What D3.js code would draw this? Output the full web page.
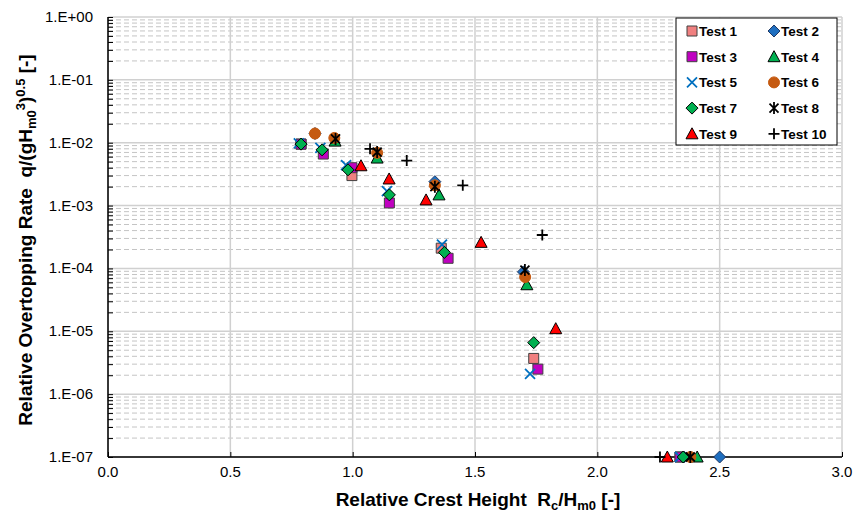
<!DOCTYPE html>
<html><head><meta charset="utf-8">
<script src="https://cdn.jsdelivr.net/npm/d3@7"></script>
<style>
body{margin:0;background:#fff;}
text{font-family:"Liberation Sans",Arial,sans-serif;fill:#000;}
</style></head>
<body><svg id="c" width="855" height="517"></svg>
<script>
const xTicks = [0,0.5,1.0,1.5,2.0,2.5,3.0];
const xTickLabels = ["0.0","0.5","1.0","1.5","2.0","2.5","3.0"];
const yTicks = [1e-7,1e-6,1e-5,1e-4,1e-3,1e-2,1e-1,1];
const yTickLabels = ["1.E-07","1.E-06","1.E-05","1.E-04","1.E-03","1.E-02","1.E-01","1.E+00"];
const seriesNames = ["Test 1","Test 2","Test 3","Test 4","Test 5","Test 6","Test 7","Test 8","Test 9","Test 10"];

const t1x = [0.789,0.997,1.362,1.740,2.338];
const t1y = [0.0095,0.0030,2.1e-4,3.7e-6,1e-7];
const t2x = [0.789,0.846,1.336,1.698,2.500];
const t2y = [0.0095,0.0140,0.0024,8.8e-5,1e-7];
const t3x = [0.789,0.880,0.997,1.150,1.390,1.757,2.338];
const t3y = [0.0095,0.0066,0.0040,0.0011,1.45e-4,2.5e-6,1e-7];
const t4x = [0.928,1.100,1.353,1.712,2.408];
const t4y = [0.0106,0.0057,0.00148,5.5e-5,1e-7];
const t5x = [0.780,0.868,0.973,1.140,1.365,1.725,2.338];
const t5y = [0.0098,0.0083,0.0044,0.0017,2.4e-4,2.1e-6,1e-7];
const t6x = [0.846,0.925,1.100,1.336,1.705,2.380];
const t6y = [0.0140,0.0119,0.0069,0.0021,7.3e-5,1e-7];
const t7x = [0.789,0.875,0.981,1.150,1.375,1.740,2.351];
const t7y = [0.0095,0.0077,0.0037,0.00148,1.8e-4,6.6e-6,1e-7];
const t8x = [0.930,1.100,1.336,1.704,2.380];
const t8y = [0.0115,0.0071,0.0020,9.4e-5,1e-7];
const t9x = [1.034,1.149,1.300,1.525,1.830,2.286];
const t9y = [0.0043,0.00265,0.00123,2.6e-4,1.1e-5,1e-7];
const t10x = [1.071,1.221,1.450,1.775,2.256];
const t10y = [0.0080,0.0052,0.0021,3.4e-4,1e-7];

const seriesX = [t1x,t2x,t3x,t4x,t5x,t6x,t7x,t8x,t9x,t10x];
const seriesY = [t1y,t2y,t3y,t4y,t5y,t6y,t7y,t8y,t9y,t10y];

const styles = [
 {shape:"square", fill:"#F08080", stroke:"#404040"},
 {shape:"diamond", fill:"#1F6FC0", stroke:"#1F3864"},
 {shape:"square", fill:"#C000C0", stroke:"#404040"},
 {shape:"triangle", fill:"#00B050", stroke:"#000"},
 {shape:"x", fill:"none", stroke:"#0070C0"},
 {shape:"circle", fill:"#C55A11", stroke:"#C55A11"},
 {shape:"diamond", fill:"#00B050", stroke:"#000"},
 {shape:"star", fill:"none", stroke:"#000"},
 {shape:"triangle", fill:"#FF0000", stroke:"#000"},
 {shape:"plus", fill:"none", stroke:"#000"}
];

function markerPath(shape){
  switch(shape){
    case "square": return "M-5,-5H5V5H-5Z";
    case "diamond": return "M0,-6L6,0L0,6L-6,0Z";
    case "triangle": return "M0,-6L6,5L-6,5Z";
    case "circle": return "M5.5,0A5.5,5.5 0 1,1 -5.5,0A5.5,5.5 0 1,1 5.5,0Z";
    case "x": return "M-5,-5L5,5M-5,5L5,-5";
    case "plus": return "M-5.5,0H5.5M0,-5.5V5.5";
    case "star": return "M-4.5,-4.5L4.5,4.5M-4.5,4.5L4.5,-4.5M0,-6V6";
  }
}
function strokeW(shape){ return (shape==="x"||shape==="plus"||shape==="star") ? 1.8 : 1; }

const svg = d3.select("#c");
const L=108, R=842, T=17, B=457;
const x = d3.scaleLinear().domain([0,3]).range([L,R]);
const y = d3.scaleLog().domain([1e-7,1]).range([B,T]);

// minor grid
const minor=[];
for(let e=-7;e<0;e++){ for(let m=2;m<=9;m++) minor.push(m*Math.pow(10,e)); }
svg.append("g").selectAll("line").data(minor).join("line")
  .attr("x1",L).attr("x2",R).attr("y1",d=>y(d)).attr("y2",d=>y(d))
  .attr("stroke","#c4c4c4").attr("stroke-width",1).attr("stroke-dasharray","5,3");
// major grid
svg.append("g").selectAll("line").data(yTicks).join("line")
  .attr("x1",L).attr("x2",R).attr("y1",d=>y(d)).attr("y2",d=>y(d))
  .attr("stroke","#d0d0d0").attr("stroke-width",1.5);
svg.append("g").selectAll("line").data(xTicks).join("line")
  .attr("y1",T).attr("y2",B).attr("x1",d=>x(d)).attr("x2",d=>x(d))
  .attr("stroke","#d0d0d0").attr("stroke-width",1.5);

// axes
const yAxis = d3.axisRight(y).tickValues(minor.concat(yTicks)).tickSize(5).tickFormat("");
const gy = svg.append("g").attr("transform",`translate(${L},0)`).call(yAxis);
gy.select(".domain").remove();
gy.selectAll("line").attr("stroke","#000");
svg.append("line").attr("x1",L).attr("x2",L).attr("y1",T).attr("y2",B).attr("stroke","#000").attr("stroke-width",1.5);

const xAxis = d3.axisTop(x).tickValues(xTicks).tickSize(5).tickFormat("");
const gx = svg.append("g").attr("transform",`translate(0,${B})`).call(xAxis);
gx.select(".domain").remove();
gx.selectAll("line").attr("stroke","#000");
svg.append("line").attr("x1",L).attr("x2",R).attr("y1",B).attr("y2",B).attr("stroke","#000").attr("stroke-width",1.5);

// tick labels
svg.append("g").selectAll("text").data(yTicks).join("text")
  .attr("x",93).attr("y",d=>y(d)+5).attr("text-anchor","end")
  .attr("font-size",15).text((d,i)=>yTickLabels[i]);
svg.append("g").selectAll("text").data(xTicks).join("text")
  .attr("x",d=>x(d)).attr("y",477).attr("text-anchor","middle")
  .attr("font-size",15).text((d,i)=>xTickLabels[i]);

// axis titles
const xt = svg.append("text").attr("x",478).attr("y",506).attr("text-anchor","middle")
  .attr("font-size",19).attr("font-weight","bold");
xt.append("tspan").text("Relative Crest Height\u00A0\u00A0R");
xt.append("tspan").attr("font-size",13).attr("dy",4).text("c");
xt.append("tspan").attr("dy",-4).text("/H");
xt.append("tspan").attr("font-size",13).attr("dy",4).text("m0");
xt.append("tspan").attr("dy",-4).text(" [-]");

const yt = svg.append("text").attr("transform","translate(32,240) rotate(-90)").attr("text-anchor","middle")
  .attr("font-size",19).attr("font-weight","bold");
yt.append("tspan").text("Relative Overtopping Rate\u00A0\u00A0q/(gH");
yt.append("tspan").attr("font-size",13).attr("dy",4).text("m0");
yt.append("tspan").attr("font-size",13).attr("dy",-11).text("3");
yt.append("tspan").attr("dy",7).text(")");
yt.append("tspan").attr("font-size",13).attr("dy",-7).text("0.5");
yt.append("tspan").attr("dy",7).text(" [-]");

// data
seriesNames.forEach((name,i)=>{
  const st = styles[i];
  const pts = seriesX[i].map((v,j)=>[v,seriesY[i][j]]);
  svg.append("g").selectAll("path").data(pts).join("path")
    .attr("transform",d=>`translate(${x(d[0])},${y(d[1])})`)
    .attr("d",markerPath(st.shape)).attr("fill",st.fill)
    .attr("stroke",st.stroke).attr("stroke-width",strokeW(st.shape));
});

// legend
const lg = svg.append("g");
lg.append("rect").attr("x",676).attr("y",18).attr("width",161).attr("height",127)
  .attr("fill","#fff").attr("stroke","#000").attr("stroke-width",1);
seriesNames.forEach((name,i)=>{
  const col = i%2, row = Math.floor(i/2);
  const mx = col===0 ? 692 : 774;
  const my = 31 + row*25.7;
  const st = styles[i];
  lg.append("path").attr("transform",`translate(${mx},${my})`).attr("d",markerPath(st.shape))
    .attr("fill",st.fill).attr("stroke",st.stroke).attr("stroke-width",strokeW(st.shape));
  lg.append("text").attr("x",mx+7).attr("y",my+5).attr("font-size",13.5).attr("font-weight","bold").text(name);
});
</script></body></html>
